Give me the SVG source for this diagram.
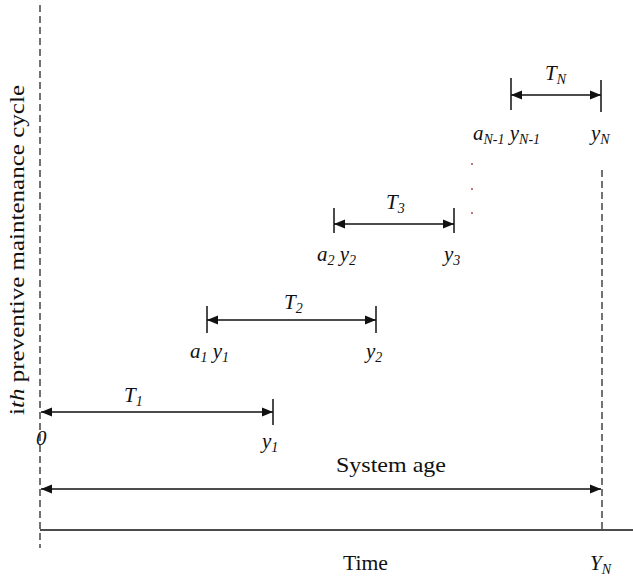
<svg xmlns="http://www.w3.org/2000/svg" width="633" height="581" viewBox="0 0 633 581">
<style>
text{font-family:"Liberation Serif","Times New Roman",serif;fill:#111;font-size:21px}
.it{font-style:italic}
.sub{font-size:14px;font-style:italic}
.ln{stroke:#111;stroke-width:1.5;fill:none}
.dash{stroke:#444;stroke-width:1.5;stroke-dasharray:7 4;fill:none}
</style>
<defs>
<marker id="ah" viewBox="0 0 10 10" refX="10" refY="5" markerWidth="11" markerHeight="11" markerUnits="userSpaceOnUse" orient="auto-start-reverse">
<path d="M0,1 L10,5 L0,9 Z" fill="#111"/>
</marker>
</defs>
<g id="axes">
<line class="dash" x1="40" y1="5" x2="40" y2="548"/>
<line class="dash" x1="602" y1="170" x2="602" y2="530"/>
<line class="ln" x1="40" y1="530" x2="633" y2="530"/>
<text x="343" y="570" textLength="45" lengthAdjust="spacingAndGlyphs">Time</text>
<text x="590" y="570" class="it">Y<tspan class="sub" dy="4">N</tspan></text>
<text transform="translate(24,415) rotate(-90)" textLength="330" lengthAdjust="spacingAndGlyphs"><tspan>i</tspan><tspan class="it">th</tspan> preventive maintenance cycle</text>
</g>
<g id="connectors">
<line class="ln" x1="41" y1="489" x2="601" y2="489" marker-start="url(#ah)" marker-end="url(#ah)"/>
<line class="ln" x1="41" y1="412" x2="273" y2="412" marker-start="url(#ah)" marker-end="url(#ah)"/>
<line class="ln" x1="273" y1="399" x2="273" y2="425"/>
<line class="ln" x1="207" y1="320" x2="376" y2="320" marker-start="url(#ah)" marker-end="url(#ah)"/>
<line class="ln" x1="207" y1="306" x2="207" y2="333"/>
<line class="ln" x1="376" y1="306" x2="376" y2="333"/>
<line class="ln" x1="334" y1="224" x2="454" y2="224" marker-start="url(#ah)" marker-end="url(#ah)"/>
<line class="ln" x1="334" y1="208" x2="334" y2="233"/>
<line class="ln" x1="454" y1="208" x2="454" y2="233"/>
<line class="ln" x1="511" y1="95" x2="601" y2="95" marker-start="url(#ah)" marker-end="url(#ah)"/>
<line class="ln" x1="511" y1="78" x2="511" y2="110"/>
<line class="ln" x1="601" y1="80" x2="601" y2="112"/>
</g>
<g id="system-age">
<text x="336" y="472" textLength="110" lengthAdjust="spacingAndGlyphs">System age</text>
</g>
<g id="cycle1">
<text x="124" y="402" class="it">T<tspan class="sub" dy="4">1</tspan></text>
<text x="36" y="445" class="it">0</text>
<text x="262" y="448" class="it">y<tspan class="sub" dy="4">1</tspan></text>
</g>
<g id="cycle2">
<text x="284" y="309" class="it">T<tspan class="sub" dy="4">2</tspan></text>
<text x="190" y="358" class="it">a<tspan class="sub" dy="4">1</tspan><tspan dy="-4"> y</tspan><tspan class="sub" dy="4">1</tspan></text>
<text x="366" y="358" class="it">y<tspan class="sub" dy="4">2</tspan></text>
</g>
<g id="cycle3">
<text x="386" y="209" class="it">T<tspan class="sub" dy="4">3</tspan></text>
<text x="317" y="261" class="it">a<tspan class="sub" dy="4">2</tspan><tspan dy="-4"> y</tspan><tspan class="sub" dy="4">2</tspan></text>
<text x="444" y="261" class="it">y<tspan class="sub" dy="4">3</tspan></text>
</g>
<g id="dots" fill="#a33">
<circle cx="472" cy="164" r="0.9"/>
<circle cx="472" cy="189" r="0.9"/>
<circle cx="472" cy="213" r="0.9"/>
</g>
<g id="cycleN">
<text x="545" y="80" class="it">T<tspan class="sub" dy="4">N</tspan></text>
<text x="473" y="140" class="it">a<tspan class="sub" dy="4">N-1</tspan><tspan dy="-4"> y</tspan><tspan class="sub" dy="4">N-1</tspan></text>
<text x="591" y="140" class="it">y<tspan class="sub" dy="4">N</tspan></text>
</g>
</svg>
